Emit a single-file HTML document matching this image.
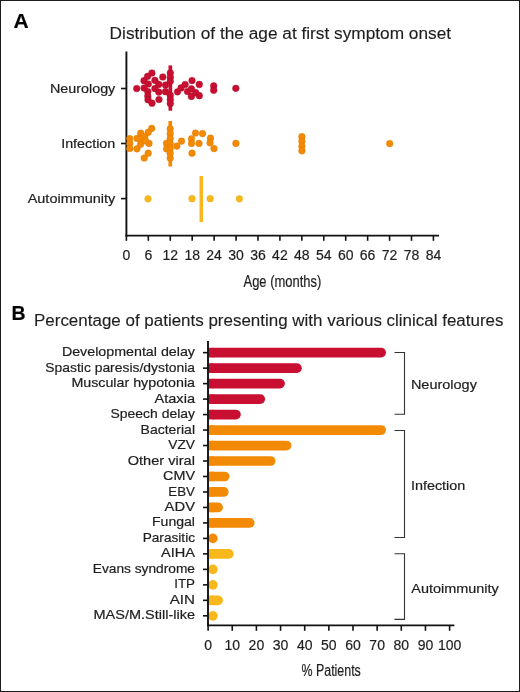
<!DOCTYPE html>
<html><head><meta charset="utf-8"><style>
html,body{margin:0;padding:0;background:#fff;overflow:hidden;}
#w{position:relative;width:520px;height:692px;overflow:hidden;background:#fff;}
#w svg{position:absolute;left:0;top:0;will-change:transform;}
#bd{position:absolute;left:0;top:0;width:518px;height:690px;border:1px solid #1c1c1c;}
text{font-family:"Liberation Sans", sans-serif;stroke:#222;stroke-width:0.2px;}
</style></head><body><div id="w">
<svg width="520" height="692" viewBox="0 0 520 692" font-family='"Liberation Sans", sans-serif'>
<text x="13.4" y="28.4" font-size="21" font-weight="bold" fill="#000">A</text>
<text x="109.6" y="39.2" font-size="15.8" textLength="341.5" lengthAdjust="spacingAndGlyphs" style="stroke-width:0.12px" fill="#1e1e1e">Distribution of the age at first symptom onset</text>
<line x1="126.4" y1="51.5" x2="126.4" y2="236.4" stroke="#111" stroke-width="1.9"/>
<line x1="125.5" y1="235.6" x2="439" y2="235.6" stroke="#111" stroke-width="1.9"/>
<line x1="126.4" y1="235.6" x2="126.4" y2="240.8" stroke="#111" stroke-width="1.6"/>
<text x="126.4" y="260.3" font-size="14" text-anchor="middle" fill="#1e1e1e">0</text>
<line x1="148.33" y1="235.6" x2="148.33" y2="240.8" stroke="#111" stroke-width="1.6"/>
<text x="148.33" y="260.3" font-size="14" text-anchor="middle" fill="#1e1e1e">6</text>
<line x1="170.26" y1="235.6" x2="170.26" y2="240.8" stroke="#111" stroke-width="1.6"/>
<text x="170.26" y="260.3" font-size="14" text-anchor="middle" fill="#1e1e1e">12</text>
<line x1="192.19" y1="235.6" x2="192.19" y2="240.8" stroke="#111" stroke-width="1.6"/>
<text x="192.19" y="260.3" font-size="14" text-anchor="middle" fill="#1e1e1e">18</text>
<line x1="214.12" y1="235.6" x2="214.12" y2="240.8" stroke="#111" stroke-width="1.6"/>
<text x="214.12" y="260.3" font-size="14" text-anchor="middle" fill="#1e1e1e">24</text>
<line x1="236.05" y1="235.6" x2="236.05" y2="240.8" stroke="#111" stroke-width="1.6"/>
<text x="236.05" y="260.3" font-size="14" text-anchor="middle" fill="#1e1e1e">30</text>
<line x1="257.98" y1="235.6" x2="257.98" y2="240.8" stroke="#111" stroke-width="1.6"/>
<text x="257.98" y="260.3" font-size="14" text-anchor="middle" fill="#1e1e1e">36</text>
<line x1="279.90999999999997" y1="235.6" x2="279.90999999999997" y2="240.8" stroke="#111" stroke-width="1.6"/>
<text x="279.91" y="260.3" font-size="14" text-anchor="middle" fill="#1e1e1e">42</text>
<line x1="301.84000000000003" y1="235.6" x2="301.84000000000003" y2="240.8" stroke="#111" stroke-width="1.6"/>
<text x="301.84" y="260.3" font-size="14" text-anchor="middle" fill="#1e1e1e">48</text>
<line x1="323.77" y1="235.6" x2="323.77" y2="240.8" stroke="#111" stroke-width="1.6"/>
<text x="323.77" y="260.3" font-size="14" text-anchor="middle" fill="#1e1e1e">54</text>
<line x1="345.70000000000005" y1="235.6" x2="345.70000000000005" y2="240.8" stroke="#111" stroke-width="1.6"/>
<text x="345.7" y="260.3" font-size="14" text-anchor="middle" fill="#1e1e1e">60</text>
<line x1="367.63" y1="235.6" x2="367.63" y2="240.8" stroke="#111" stroke-width="1.6"/>
<text x="367.63" y="260.3" font-size="14" text-anchor="middle" fill="#1e1e1e">66</text>
<line x1="389.55999999999995" y1="235.6" x2="389.55999999999995" y2="240.8" stroke="#111" stroke-width="1.6"/>
<text x="389.56" y="260.3" font-size="14" text-anchor="middle" fill="#1e1e1e">72</text>
<line x1="411.49" y1="235.6" x2="411.49" y2="240.8" stroke="#111" stroke-width="1.6"/>
<text x="411.49" y="260.3" font-size="14" text-anchor="middle" fill="#1e1e1e">78</text>
<line x1="433.41999999999996" y1="235.6" x2="433.41999999999996" y2="240.8" stroke="#111" stroke-width="1.6"/>
<text x="433.42" y="260.3" font-size="14" text-anchor="middle" fill="#1e1e1e">84</text>
<line x1="121" y1="88.5" x2="126.4" y2="88.5" stroke="#111" stroke-width="1.6"/>
<line x1="121" y1="143.5" x2="126.4" y2="143.5" stroke="#111" stroke-width="1.6"/>
<line x1="121" y1="198.6" x2="126.4" y2="198.6" stroke="#111" stroke-width="1.6"/>
<text x="115.3" y="92.6" font-size="13" text-anchor="end" textLength="65.4" lengthAdjust="spacingAndGlyphs" fill="#1e1e1e">Neurology</text>
<text x="115.3" y="147.8" font-size="13" text-anchor="end" textLength="54.1" lengthAdjust="spacingAndGlyphs" fill="#1e1e1e">Infection</text>
<text x="115.3" y="203.0" font-size="13" text-anchor="end" textLength="87.6" lengthAdjust="spacingAndGlyphs" fill="#1e1e1e">Autoimmunity</text>
<text x="243.5" y="286.9" font-size="15.8" textLength="77.8" lengthAdjust="spacingAndGlyphs" fill="#1e1e1e">Age (months)</text>
<rect x="168.5" y="65.4" width="3.7" height="45.3" fill="#c90f31"/>
<rect x="168.4" y="121" width="3.7" height="45.5" fill="#f38a06"/>
<rect x="199.5" y="176" width="3.5" height="46" fill="#f8b81b"/>
<circle cx="136.7" cy="88.5" r="3.35" fill="#c90f31" stroke="#a80a28" stroke-width="0.4"/>
<circle cx="151.9" cy="73.0" r="3.35" fill="#c90f31" stroke="#a80a28" stroke-width="0.4"/>
<circle cx="147.6" cy="76.3" r="3.35" fill="#c90f31" stroke="#a80a28" stroke-width="0.4"/>
<circle cx="144.0" cy="80.7" r="3.35" fill="#c90f31" stroke="#a80a28" stroke-width="0.4"/>
<circle cx="148.3" cy="84.0" r="3.35" fill="#c90f31" stroke="#a80a28" stroke-width="0.4"/>
<circle cx="144.1" cy="88.0" r="3.35" fill="#c90f31" stroke="#a80a28" stroke-width="0.4"/>
<circle cx="147.8" cy="91.7" r="3.35" fill="#c90f31" stroke="#a80a28" stroke-width="0.4"/>
<circle cx="147.8" cy="96.1" r="3.35" fill="#c90f31" stroke="#a80a28" stroke-width="0.4"/>
<circle cx="148.0" cy="99.7" r="3.35" fill="#c90f31" stroke="#a80a28" stroke-width="0.4"/>
<circle cx="152.0" cy="103.2" r="3.35" fill="#c90f31" stroke="#a80a28" stroke-width="0.4"/>
<circle cx="154.9" cy="80.3" r="3.35" fill="#c90f31" stroke="#a80a28" stroke-width="0.4"/>
<circle cx="162.8" cy="77.0" r="3.35" fill="#c90f31" stroke="#a80a28" stroke-width="0.4"/>
<circle cx="158.7" cy="84.4" r="3.35" fill="#c90f31" stroke="#a80a28" stroke-width="0.4"/>
<circle cx="154.9" cy="88.6" r="3.35" fill="#c90f31" stroke="#a80a28" stroke-width="0.4"/>
<circle cx="158.8" cy="92.1" r="3.35" fill="#c90f31" stroke="#a80a28" stroke-width="0.4"/>
<circle cx="159.0" cy="99.5" r="3.35" fill="#c90f31" stroke="#a80a28" stroke-width="0.4"/>
<circle cx="165.5" cy="85.0" r="3.35" fill="#c90f31" stroke="#a80a28" stroke-width="0.4"/>
<circle cx="165.5" cy="91.7" r="3.35" fill="#c90f31" stroke="#a80a28" stroke-width="0.4"/>
<circle cx="177.5" cy="91.8" r="3.35" fill="#c90f31" stroke="#a80a28" stroke-width="0.4"/>
<circle cx="181.1" cy="87.9" r="3.35" fill="#c90f31" stroke="#a80a28" stroke-width="0.4"/>
<circle cx="185.1" cy="84.5" r="3.35" fill="#c90f31" stroke="#a80a28" stroke-width="0.4"/>
<circle cx="192.0" cy="80.6" r="3.35" fill="#c90f31" stroke="#a80a28" stroke-width="0.4"/>
<circle cx="187.5" cy="91.5" r="3.35" fill="#c90f31" stroke="#a80a28" stroke-width="0.4"/>
<circle cx="191.4" cy="88.8" r="3.35" fill="#c90f31" stroke="#a80a28" stroke-width="0.4"/>
<circle cx="191.4" cy="96.4" r="3.35" fill="#c90f31" stroke="#a80a28" stroke-width="0.4"/>
<circle cx="195.7" cy="92.7" r="3.35" fill="#c90f31" stroke="#a80a28" stroke-width="0.4"/>
<circle cx="199.3" cy="84.4" r="3.35" fill="#c90f31" stroke="#a80a28" stroke-width="0.4"/>
<circle cx="199.3" cy="95.7" r="3.35" fill="#c90f31" stroke="#a80a28" stroke-width="0.4"/>
<circle cx="213.7" cy="85.9" r="3.35" fill="#c90f31" stroke="#a80a28" stroke-width="0.4"/>
<circle cx="213.7" cy="90.2" r="3.35" fill="#c90f31" stroke="#a80a28" stroke-width="0.4"/>
<circle cx="235.8" cy="88.3" r="3.35" fill="#c90f31" stroke="#a80a28" stroke-width="0.4"/>
<circle cx="170.3" cy="73.0" r="3.35" fill="#c90f31" stroke="#a80a28" stroke-width="0.4"/>
<circle cx="170.3" cy="77.3" r="3.35" fill="#c90f31" stroke="#a80a28" stroke-width="0.4"/>
<circle cx="170.3" cy="81.3" r="3.35" fill="#c90f31" stroke="#a80a28" stroke-width="0.4"/>
<circle cx="170.3" cy="95.3" r="3.35" fill="#c90f31" stroke="#a80a28" stroke-width="0.4"/>
<circle cx="170.3" cy="99.4" r="3.35" fill="#c90f31" stroke="#a80a28" stroke-width="0.4"/>
<circle cx="170.3" cy="103.5" r="3.35" fill="#c90f31" stroke="#a80a28" stroke-width="0.4"/>
<circle cx="129.8" cy="138.5" r="3.35" fill="#f38a06" stroke="#d97a00" stroke-width="0.4"/>
<circle cx="129.8" cy="143.5" r="3.35" fill="#f38a06" stroke="#d97a00" stroke-width="0.4"/>
<circle cx="129.8" cy="148.5" r="3.35" fill="#f38a06" stroke="#d97a00" stroke-width="0.4"/>
<circle cx="137.0" cy="138.4" r="3.35" fill="#f38a06" stroke="#d97a00" stroke-width="0.4"/>
<circle cx="137.0" cy="148.8" r="3.35" fill="#f38a06" stroke="#d97a00" stroke-width="0.4"/>
<circle cx="140.7" cy="133.2" r="3.35" fill="#f38a06" stroke="#d97a00" stroke-width="0.4"/>
<circle cx="140.9" cy="139.0" r="3.35" fill="#f38a06" stroke="#d97a00" stroke-width="0.4"/>
<circle cx="144.8" cy="136.9" r="3.35" fill="#f38a06" stroke="#d97a00" stroke-width="0.4"/>
<circle cx="149.0" cy="143.4" r="3.35" fill="#f38a06" stroke="#d97a00" stroke-width="0.4"/>
<circle cx="140.6" cy="144.3" r="3.35" fill="#f38a06" stroke="#d97a00" stroke-width="0.4"/>
<circle cx="145.4" cy="140.8" r="3.35" fill="#f38a06" stroke="#d97a00" stroke-width="0.4"/>
<circle cx="151.7" cy="128.4" r="3.35" fill="#f38a06" stroke="#d97a00" stroke-width="0.4"/>
<circle cx="148.2" cy="132.3" r="3.35" fill="#f38a06" stroke="#d97a00" stroke-width="0.4"/>
<circle cx="148.2" cy="153.2" r="3.35" fill="#f38a06" stroke="#d97a00" stroke-width="0.4"/>
<circle cx="144.2" cy="158.0" r="3.35" fill="#f38a06" stroke="#d97a00" stroke-width="0.4"/>
<circle cx="166.5" cy="143.4" r="3.35" fill="#f38a06" stroke="#d97a00" stroke-width="0.4"/>
<circle cx="166.5" cy="148.8" r="3.35" fill="#f38a06" stroke="#d97a00" stroke-width="0.4"/>
<circle cx="176.9" cy="146.1" r="3.35" fill="#f38a06" stroke="#d97a00" stroke-width="0.4"/>
<circle cx="181.5" cy="141.1" r="3.35" fill="#f38a06" stroke="#d97a00" stroke-width="0.4"/>
<circle cx="195.5" cy="133.0" r="3.35" fill="#f38a06" stroke="#d97a00" stroke-width="0.4"/>
<circle cx="202.5" cy="133.6" r="3.35" fill="#f38a06" stroke="#d97a00" stroke-width="0.4"/>
<circle cx="191.5" cy="138.8" r="3.35" fill="#f38a06" stroke="#d97a00" stroke-width="0.4"/>
<circle cx="191.5" cy="143.4" r="3.35" fill="#f38a06" stroke="#d97a00" stroke-width="0.4"/>
<circle cx="199.0" cy="143.4" r="3.35" fill="#f38a06" stroke="#d97a00" stroke-width="0.4"/>
<circle cx="210.5" cy="138.2" r="3.35" fill="#f38a06" stroke="#d97a00" stroke-width="0.4"/>
<circle cx="210.0" cy="142.8" r="3.35" fill="#f38a06" stroke="#d97a00" stroke-width="0.4"/>
<circle cx="214.0" cy="148.6" r="3.35" fill="#f38a06" stroke="#d97a00" stroke-width="0.4"/>
<circle cx="192.0" cy="153.2" r="3.35" fill="#f38a06" stroke="#d97a00" stroke-width="0.4"/>
<circle cx="235.9" cy="143.4" r="3.35" fill="#f38a06" stroke="#d97a00" stroke-width="0.4"/>
<circle cx="389.7" cy="143.6" r="3.35" fill="#f38a06" stroke="#d97a00" stroke-width="0.4"/>
<circle cx="170.2" cy="128.8" r="3.35" fill="#f38a06" stroke="#d97a00" stroke-width="0.4"/>
<circle cx="170.2" cy="133.7" r="3.35" fill="#f38a06" stroke="#d97a00" stroke-width="0.4"/>
<circle cx="170.2" cy="138.5" r="3.35" fill="#f38a06" stroke="#d97a00" stroke-width="0.4"/>
<circle cx="170.2" cy="143.4" r="3.35" fill="#f38a06" stroke="#d97a00" stroke-width="0.4"/>
<circle cx="170.2" cy="148.3" r="3.35" fill="#f38a06" stroke="#d97a00" stroke-width="0.4"/>
<circle cx="170.2" cy="153.2" r="3.35" fill="#f38a06" stroke="#d97a00" stroke-width="0.4"/>
<circle cx="170.2" cy="158.0" r="3.35" fill="#f38a06" stroke="#d97a00" stroke-width="0.4"/>
<circle cx="301.9" cy="136.7" r="3.35" fill="#f38a06" stroke="#d97a00" stroke-width="0.4"/>
<circle cx="301.9" cy="141.2" r="3.35" fill="#f38a06" stroke="#d97a00" stroke-width="0.4"/>
<circle cx="301.9" cy="146.3" r="3.35" fill="#f38a06" stroke="#d97a00" stroke-width="0.4"/>
<circle cx="301.9" cy="150.8" r="3.35" fill="#f38a06" stroke="#d97a00" stroke-width="0.4"/>
<circle cx="148.0" cy="198.8" r="3.35" fill="#f8b81b" stroke="#e5a810" stroke-width="0.4"/>
<circle cx="192.0" cy="198.7" r="3.35" fill="#f8b81b" stroke="#e5a810" stroke-width="0.4"/>
<circle cx="210.2" cy="198.7" r="3.35" fill="#f8b81b" stroke="#e5a810" stroke-width="0.4"/>
<circle cx="239.4" cy="198.8" r="3.35" fill="#f8b81b" stroke="#e5a810" stroke-width="0.4"/>
<text x="11.6" y="320.2" font-size="19.5" font-weight="bold" fill="#000">B</text>
<text x="34.0" y="326.0" font-size="15.8" textLength="469.5" lengthAdjust="spacingAndGlyphs" style="stroke-width:0.12px" fill="#1e1e1e">Percentage of patients presenting with various clinical features</text>
<rect x="208.6" y="347.80" width="177.40" height="9.7" rx="4.85" fill="#c90f31"/>
<rect x="208.6" y="347.80" width="5" height="9.7" fill="#c90f31"/>
<line x1="203" y1="352.65" x2="208" y2="352.65" stroke="#111" stroke-width="1.6"/>
<text x="195.0" y="356.2" font-size="13" text-anchor="end" textLength="133.1" lengthAdjust="spacingAndGlyphs" fill="#1e1e1e">Developmental delay</text>
<rect x="208.6" y="363.28" width="93.20" height="9.7" rx="4.85" fill="#c90f31"/>
<rect x="208.6" y="363.28" width="5" height="9.7" fill="#c90f31"/>
<line x1="203" y1="368.13" x2="208" y2="368.13" stroke="#111" stroke-width="1.6"/>
<text x="195.0" y="371.68" font-size="13" text-anchor="end" textLength="149.7" lengthAdjust="spacingAndGlyphs" fill="#1e1e1e">Spastic paresis/dystonia</text>
<rect x="208.6" y="378.76" width="76.30" height="9.7" rx="4.85" fill="#c90f31"/>
<rect x="208.6" y="378.76" width="5" height="9.7" fill="#c90f31"/>
<line x1="203" y1="383.61" x2="208" y2="383.61" stroke="#111" stroke-width="1.6"/>
<text x="195.0" y="387.16" font-size="13" text-anchor="end" textLength="123.6" lengthAdjust="spacingAndGlyphs" fill="#1e1e1e">Muscular hypotonia</text>
<rect x="208.6" y="394.24" width="56.50" height="9.7" rx="4.85" fill="#c90f31"/>
<rect x="208.6" y="394.24" width="5" height="9.7" fill="#c90f31"/>
<line x1="203" y1="399.09" x2="208" y2="399.09" stroke="#111" stroke-width="1.6"/>
<text x="195.0" y="402.64" font-size="13" text-anchor="end" textLength="40.5" lengthAdjust="spacingAndGlyphs" fill="#1e1e1e">Ataxia</text>
<rect x="208.6" y="409.72" width="32.20" height="9.7" rx="4.85" fill="#c90f31"/>
<rect x="208.6" y="409.72" width="5" height="9.7" fill="#c90f31"/>
<line x1="203" y1="414.57" x2="208" y2="414.57" stroke="#111" stroke-width="1.6"/>
<text x="195.0" y="418.12" font-size="13" text-anchor="end" textLength="84.5" lengthAdjust="spacingAndGlyphs" fill="#1e1e1e">Speech delay</text>
<rect x="208.6" y="425.20" width="177.40" height="9.7" rx="4.85" fill="#f38a06"/>
<rect x="208.6" y="425.20" width="5" height="9.7" fill="#f38a06"/>
<line x1="203" y1="430.05" x2="208" y2="430.05" stroke="#111" stroke-width="1.6"/>
<text x="195.0" y="433.6" font-size="13" text-anchor="end" textLength="54.4" lengthAdjust="spacingAndGlyphs" fill="#1e1e1e">Bacterial</text>
<rect x="208.6" y="440.68" width="82.80" height="9.7" rx="4.85" fill="#f38a06"/>
<rect x="208.6" y="440.68" width="5" height="9.7" fill="#f38a06"/>
<line x1="203" y1="445.53" x2="208" y2="445.53" stroke="#111" stroke-width="1.6"/>
<text x="195.0" y="449.08" font-size="13" text-anchor="end" textLength="26.7" lengthAdjust="spacingAndGlyphs" fill="#1e1e1e">VZV</text>
<rect x="208.6" y="456.16" width="66.90" height="9.7" rx="4.85" fill="#f38a06"/>
<rect x="208.6" y="456.16" width="5" height="9.7" fill="#f38a06"/>
<line x1="203" y1="461.01" x2="208" y2="461.01" stroke="#111" stroke-width="1.6"/>
<text x="195.0" y="464.56" font-size="13" text-anchor="end" textLength="67.3" lengthAdjust="spacingAndGlyphs" fill="#1e1e1e">Other viral</text>
<rect x="208.6" y="471.64" width="20.90" height="9.7" rx="4.85" fill="#f38a06"/>
<rect x="208.6" y="471.64" width="5" height="9.7" fill="#f38a06"/>
<line x1="203" y1="476.49" x2="208" y2="476.49" stroke="#111" stroke-width="1.6"/>
<text x="195.0" y="480.04" font-size="13" text-anchor="end" textLength="31.9" lengthAdjust="spacingAndGlyphs" fill="#1e1e1e">CMV</text>
<rect x="208.6" y="487.12" width="20.00" height="9.7" rx="4.85" fill="#f38a06"/>
<rect x="208.6" y="487.12" width="5" height="9.7" fill="#f38a06"/>
<line x1="203" y1="491.97" x2="208" y2="491.97" stroke="#111" stroke-width="1.6"/>
<text x="195.0" y="495.52" font-size="13" text-anchor="end" textLength="26.7" lengthAdjust="spacingAndGlyphs" fill="#1e1e1e">EBV</text>
<rect x="208.6" y="502.60" width="14.30" height="9.7" rx="4.85" fill="#f38a06"/>
<rect x="208.6" y="502.60" width="5" height="9.7" fill="#f38a06"/>
<line x1="203" y1="507.45" x2="208" y2="507.45" stroke="#111" stroke-width="1.6"/>
<text x="195.0" y="511.0" font-size="13" text-anchor="end" textLength="30.4" lengthAdjust="spacingAndGlyphs" fill="#1e1e1e">ADV</text>
<rect x="208.6" y="518.08" width="46.00" height="9.7" rx="4.85" fill="#f38a06"/>
<rect x="208.6" y="518.08" width="5" height="9.7" fill="#f38a06"/>
<line x1="203" y1="522.93" x2="208" y2="522.93" stroke="#111" stroke-width="1.6"/>
<text x="195.0" y="526.48" font-size="13" text-anchor="end" textLength="43.0" lengthAdjust="spacingAndGlyphs" fill="#1e1e1e">Fungal</text>
<rect x="208.0" y="533.56" width="9.70" height="9.7" rx="4.85" fill="#f38a06"/>
<line x1="203" y1="538.41" x2="208" y2="538.41" stroke="#111" stroke-width="1.6"/>
<text x="195.0" y="541.96" font-size="13" text-anchor="end" textLength="52.3" lengthAdjust="spacingAndGlyphs" fill="#1e1e1e">Parasitic</text>
<rect x="208.6" y="549.04" width="25.10" height="9.7" rx="4.85" fill="#f8b81b"/>
<rect x="208.6" y="549.04" width="5" height="9.7" fill="#f8b81b"/>
<line x1="203" y1="553.89" x2="208" y2="553.89" stroke="#111" stroke-width="1.6"/>
<text x="195.0" y="557.44" font-size="13" text-anchor="end" textLength="34.0" lengthAdjust="spacingAndGlyphs" fill="#1e1e1e">AIHA</text>
<rect x="208.0" y="564.52" width="9.70" height="9.7" rx="4.85" fill="#f8b81b"/>
<line x1="203" y1="569.37" x2="208" y2="569.37" stroke="#111" stroke-width="1.6"/>
<text x="195.0" y="572.92" font-size="13" text-anchor="end" textLength="102.2" lengthAdjust="spacingAndGlyphs" fill="#1e1e1e">Evans syndrome</text>
<rect x="208.0" y="580.00" width="9.70" height="9.7" rx="4.85" fill="#f8b81b"/>
<line x1="203" y1="584.85" x2="208" y2="584.85" stroke="#111" stroke-width="1.6"/>
<text x="195.0" y="588.4" font-size="13" text-anchor="end" textLength="20.8" lengthAdjust="spacingAndGlyphs" fill="#1e1e1e">ITP</text>
<rect x="208.6" y="595.48" width="14.40" height="9.7" rx="4.85" fill="#f8b81b"/>
<rect x="208.6" y="595.48" width="5" height="9.7" fill="#f8b81b"/>
<line x1="203" y1="600.33" x2="208" y2="600.33" stroke="#111" stroke-width="1.6"/>
<text x="195.0" y="603.88" font-size="13" text-anchor="end" textLength="25.3" lengthAdjust="spacingAndGlyphs" fill="#1e1e1e">AIN</text>
<rect x="208.0" y="610.96" width="9.70" height="9.7" rx="4.85" fill="#f8b81b"/>
<line x1="203" y1="615.81" x2="208" y2="615.81" stroke="#111" stroke-width="1.6"/>
<text x="195.0" y="619.36" font-size="13" text-anchor="end" textLength="101.5" lengthAdjust="spacingAndGlyphs" fill="#1e1e1e">MAS/M.Still-like</text>
<line x1="208.0" y1="341.0" x2="208.0" y2="626.0" stroke="#111" stroke-width="1.9"/>
<line x1="207.1" y1="625.4" x2="454.4" y2="625.4" stroke="#111" stroke-width="1.9"/>
<line x1="208.1" y1="625.4" x2="208.1" y2="630.8" stroke="#111" stroke-width="1.6"/>
<text x="208.1" y="650.2" font-size="14" text-anchor="middle" fill="#1e1e1e">0</text>
<line x1="232.25" y1="625.4" x2="232.25" y2="630.8" stroke="#111" stroke-width="1.6"/>
<text x="232.25" y="650.2" font-size="14" text-anchor="middle" fill="#1e1e1e">10</text>
<line x1="256.4" y1="625.4" x2="256.4" y2="630.8" stroke="#111" stroke-width="1.6"/>
<text x="256.4" y="650.2" font-size="14" text-anchor="middle" fill="#1e1e1e">20</text>
<line x1="280.54999999999995" y1="625.4" x2="280.54999999999995" y2="630.8" stroke="#111" stroke-width="1.6"/>
<text x="280.55" y="650.2" font-size="14" text-anchor="middle" fill="#1e1e1e">30</text>
<line x1="304.7" y1="625.4" x2="304.7" y2="630.8" stroke="#111" stroke-width="1.6"/>
<text x="304.7" y="650.2" font-size="14" text-anchor="middle" fill="#1e1e1e">40</text>
<line x1="328.85" y1="625.4" x2="328.85" y2="630.8" stroke="#111" stroke-width="1.6"/>
<text x="328.85" y="650.2" font-size="14" text-anchor="middle" fill="#1e1e1e">50</text>
<line x1="353.0" y1="625.4" x2="353.0" y2="630.8" stroke="#111" stroke-width="1.6"/>
<text x="353.0" y="650.2" font-size="14" text-anchor="middle" fill="#1e1e1e">60</text>
<line x1="377.15" y1="625.4" x2="377.15" y2="630.8" stroke="#111" stroke-width="1.6"/>
<text x="377.15" y="650.2" font-size="14" text-anchor="middle" fill="#1e1e1e">70</text>
<line x1="401.29999999999995" y1="625.4" x2="401.29999999999995" y2="630.8" stroke="#111" stroke-width="1.6"/>
<text x="401.3" y="650.2" font-size="14" text-anchor="middle" fill="#1e1e1e">80</text>
<line x1="425.45" y1="625.4" x2="425.45" y2="630.8" stroke="#111" stroke-width="1.6"/>
<text x="425.45" y="650.2" font-size="14" text-anchor="middle" fill="#1e1e1e">90</text>
<line x1="449.6" y1="625.4" x2="449.6" y2="630.8" stroke="#111" stroke-width="1.6"/>
<text x="449.6" y="650.2" font-size="14" text-anchor="middle" fill="#1e1e1e">100</text>
<text x="301.5" y="676.0" font-size="15.8" textLength="59.3" lengthAdjust="spacingAndGlyphs" fill="#1e1e1e">% Patients</text>
<polyline points="394.5,352.5 404.5,352.5 404.5,414.3 394.5,414.3" fill="none" stroke="#333" stroke-width="1.1"/>
<polyline points="394.5,430.5 404.5,430.5 404.5,537.5 394.5,537.5" fill="none" stroke="#333" stroke-width="1.1"/>
<polyline points="394.5,553.7 404.5,553.7 404.5,619.4 394.5,619.4" fill="none" stroke="#333" stroke-width="1.1"/>
<text x="410.9" y="388.8" font-size="13" textLength="66.0" lengthAdjust="spacingAndGlyphs" fill="#1e1e1e">Neurology</text>
<text x="410.9" y="489.5" font-size="13" textLength="54.4" lengthAdjust="spacingAndGlyphs" fill="#1e1e1e">Infection</text>
<text x="411.3" y="592.5" font-size="13" textLength="87.5" lengthAdjust="spacingAndGlyphs" fill="#1e1e1e">Autoimmunity</text>
</svg><div id="bd"></div></div></body></html>
